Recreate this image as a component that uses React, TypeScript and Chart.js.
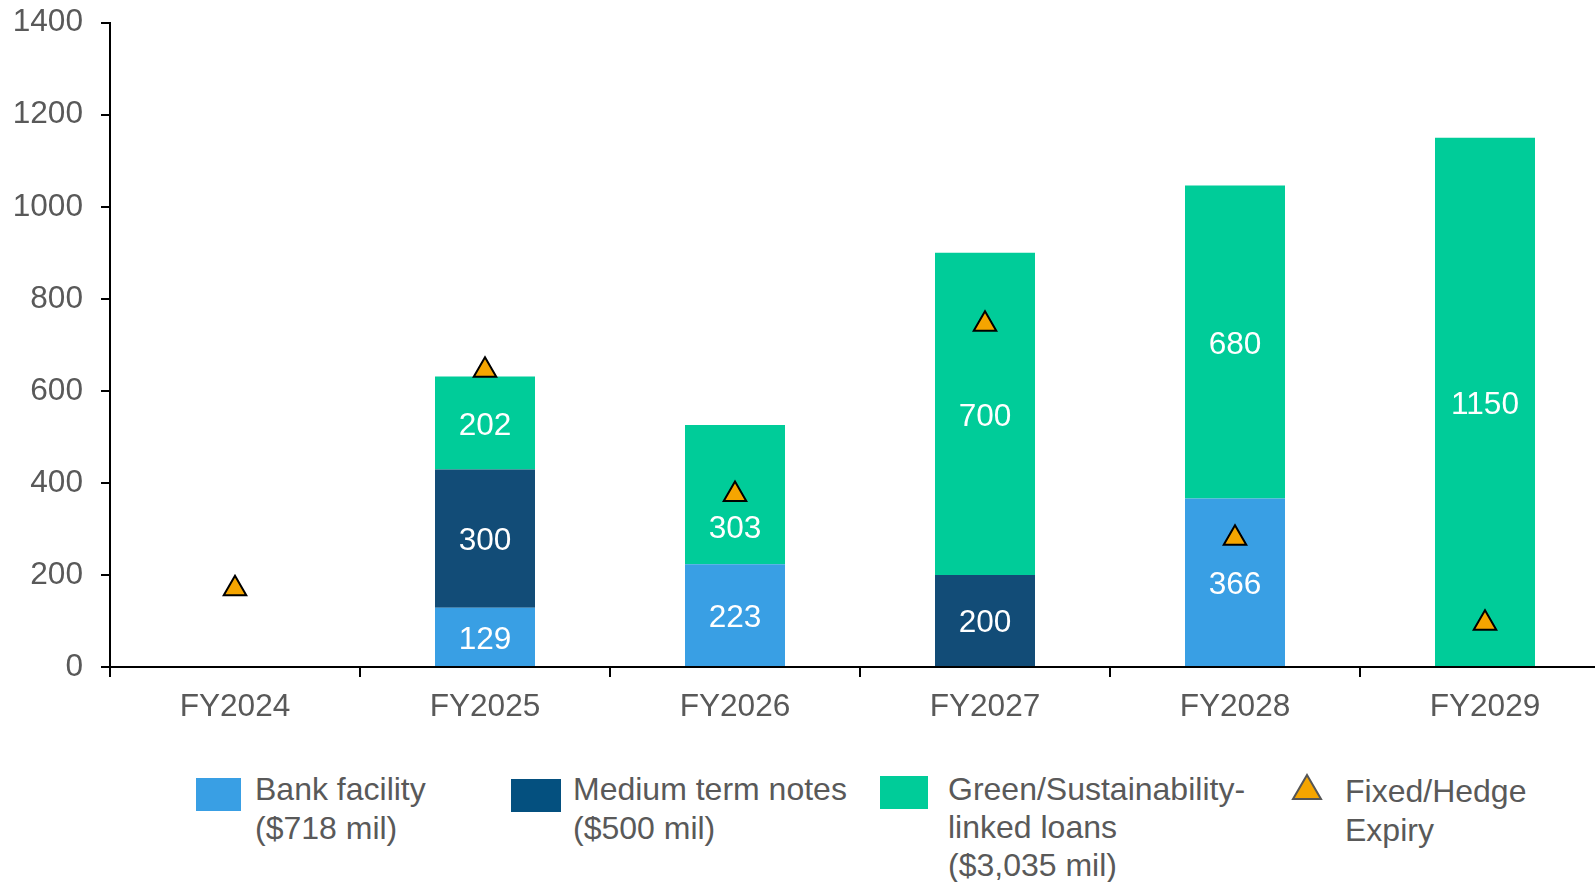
import React, { useEffect, useRef } from "react";
import { Chart, registerables } from "chart.js";

Chart.register(...registerables);

const categories = ["FY2024", "FY2025", "FY2026", "FY2027", "FY2028", "FY2029"];
const bankFacility = [0, 129, 223, 0, 366, 0];
const mediumTermNotes = [0, 300, 0, 200, 0, 0];
const greenLoans = [0, 202, 303, 700, 680, 1150];
const hedgeExpiry = [170, 645, 375, 745, 280, 95];
const yTicks = [0, 200, 400, 600, 800, 1000, 1200, 1400];

const FONT = "'Liberation Sans', Arial, Helvetica, sans-serif";
const GREY = "#595959";
const C_BANK = "#399FE4";
const C_MTN = "#124C77";
const C_GREEN = "#00CC99";
const C_TRI = "#F5A500";

const labelPlugin = {
  id: "segLabels",
  afterDatasetsDraw(chart: any) {
    const ctx = chart.ctx;
    const shifts: Record<string, number> = { "2,2": 32 };
    ctx.save();
    ctx.font = `31.6px ${FONT}`;
    ctx.fillStyle = "#ffffff";
    ctx.textAlign = "center";
    ctx.textBaseline = "middle";
    chart.data.datasets.forEach((ds: any, di: number) => {
      if (ds.type === "line") return;
      const meta = chart.getDatasetMeta(di);
      meta.data.forEach((el: any, i: number) => {
        const v = ds.data[i];
        if (!v) return;
        const cy = (el.y + el.base) / 2 + 3 + (shifts[`${di},${i}`] || 0);
        ctx.fillText(String(v), el.x, cy);
      });
    });
    ctx.restore();
  },
};

export default function App() {
  const ref = useRef<HTMLCanvasElement>(null);
  useEffect(() => {
    if (!ref.current) return;
    const chart = new Chart(ref.current, {
      type: "bar",
      data: {
        labels: categories,
        datasets: [
          { type: "bar", label: "Bank facility", data: bankFacility, backgroundColor: C_BANK, stack: "s", order: 2 },
          { type: "bar", label: "Medium term notes", data: mediumTermNotes, backgroundColor: C_MTN, stack: "s", order: 2 },
          { type: "bar", label: "Green/Sustainability-linked loans", data: greenLoans, backgroundColor: C_GREEN, stack: "s", order: 2 },
          {
            type: "line",
            label: "Fixed/Hedge Expiry",
            data: hedgeExpiry,
            showLine: false,
            pointStyle: "triangle",
            pointRadius: 13,
            pointHoverRadius: 13,
            pointBackgroundColor: C_TRI,
            pointBorderColor: "#000000",
            pointBorderWidth: 2,
            order: 1,
          } as any,
        ],
      },
      options: {
        responsive: false,
        animation: false,
        devicePixelRatio: 1,
        layout: { autoPadding: false, padding: { top: 22.7, left: 0, right: 2, bottom: 0 } } as any,
        datasets: { bar: { categoryPercentage: 1, barPercentage: 0.4 } } as any,
        plugins: { legend: { display: false }, tooltip: { enabled: false } },
        scales: {
          x: {
            stacked: true,
            offset: true,
            grid: { display: true, drawOnChartArea: false, offset: true, tickLength: 10, color: "#000", lineWidth: 2 },
            border: { display: true, color: "#000", width: 2 },
            ticks: { color: GREY, font: { family: FONT, size: 31.6 }, padding: 11, maxRotation: 0 },
            afterFit: (s: any) => { s.height = 93; s.paddingLeft = 0; s.paddingRight = 0; },
          },
          y: {
            stacked: true,
            min: 0,
            max: 1400,
            afterBuildTicks: (s: any) => { s.ticks = yTicks.map((v) => ({ value: v })); },
            grid: { display: true, drawOnChartArea: false, tickLength: 9, color: "#000", lineWidth: 2 },
            border: { display: true, color: "#000", width: 2 },
            ticks: { color: GREY, font: { family: FONT, size: 31.6 }, padding: 18, callback: (v: any) => String(v) },
            afterFit: (s: any) => { s.width = 110; s.paddingTop = 0; s.paddingBottom = 0; },
          },
        },
      },
      plugins: [labelPlugin],
    });
    return () => chart.destroy();
  }, []);

  const txt: React.CSSProperties = {
    position: "absolute",
    fontFamily: FONT,
    fontSize: 32,
    lineHeight: "38.5px",
    color: GREY,
    whiteSpace: "nowrap",
  };
  const sw = (left: number, top: number, w: number, h: number, c: string): React.CSSProperties => ({
    position: "absolute", left, top, width: w, height: h, background: c,
  });

  return (
    <div style={{ position: "absolute", left: 0, top: 0, width: 1595, height: 882, overflow: "hidden", background: "#fff" }}>
      <canvas ref={ref} width={1612} height={760} style={{ position: "absolute", left: 0, top: 0, width: 1612, height: 760 }} />
      <div style={sw(196, 778, 45, 33, C_BANK)} />
      <div style={{ ...txt, left: 255, top: 770 }}>Bank facility<br />($718 mil)</div>
      <div style={sw(511, 779, 50, 33, "#04507F")} />
      <div style={{ ...txt, left: 573, top: 770 }}>Medium term notes<br />($500 mil)</div>
      <div style={sw(880, 776, 48, 33, C_GREEN)} />
      <div style={{ ...txt, left: 948, top: 770, lineHeight: "38px" }}>Green/Sustainability-<br />linked loans<br />($3,035 mil)</div>
      <svg style={{ position: "absolute", left: 1291, top: 773 }} width={32} height={28}>
        <polygon points="16,2 30,26 2,26" fill={C_TRI} stroke="#555" strokeWidth={2} />
      </svg>
      <div style={{ ...txt, left: 1345, top: 772 }}>Fixed/Hedge<br />Expiry</div>
    </div>
  );
}
